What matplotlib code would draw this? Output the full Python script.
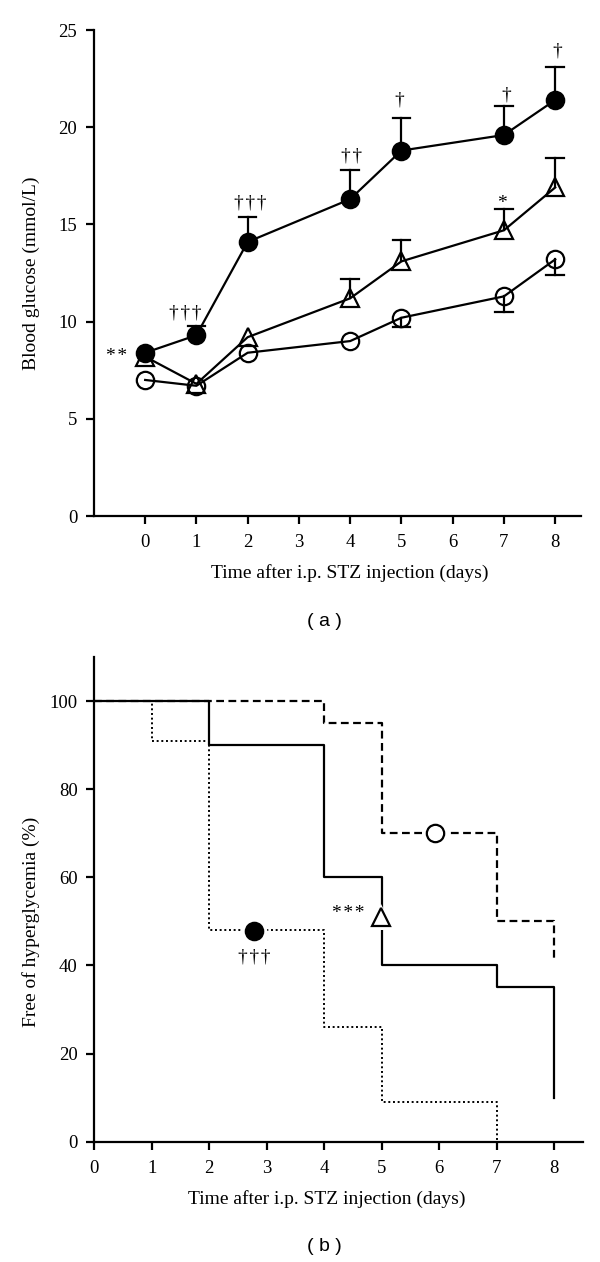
import matplotlib
matplotlib.use("Agg")
import numpy as np
import matplotlib.pyplot as plt

# ================== DATA ==================
days = [0, 1, 2, 4, 5, 7, 8]

# blood glucose (mmol/L), mean and SEM
stz_mean = [8.4, 9.3, 14.1, 16.3, 18.8, 19.6, 21.4]
stz_sem = [0, 0.45, 1.3, 1.5, 1.7, 1.5, 1.7]
tri_mean = [8.2, 6.8, 9.2, 11.2, 13.1, 14.7, 16.9]
tri_sem = [0, 0, 0, 1.0, 1.1, 1.1, 1.5]
open_mean = [7.0, 6.7, 8.4, 9.0, 10.2, 11.3, 13.2]
open_sem = [0, 0, 0, 0, 0.5, 0.8, 0.8]

# significance marks (panel a)
D3 = "\u2020\u200a\u2020\u200a\u2020"
D2 = "\u2020\u200a\u2020"
marks_a = [("*\u200a*", -0.55, 8.2), (D3, 0.79, 10.45), (D3, 2.05, 16.1),
           (D2, 4.02, 18.5), ("\u2020", 4.95, 21.4), ("\u2020", 7.04, 21.65),
           ("\u2020", 8.04, 23.9), ("*", 6.96, 16.1)]

# free of hyperglycemia (%), Kaplan-Meier steps
km_open_t = [0, 4, 5, 7, 8]
km_open_v = [100, 95, 70, 50, 41]
km_tri_t = [0, 2, 4, 5, 7, 8]
km_tri_v = [100, 90, 60, 40, 35, 10]
km_stz_t = [0, 1, 2, 4, 5, 7]
km_stz_v = [100, 91, 48, 26, 9, 0]

# curve symbols (panel b)
sym_open = (5.93, 70)
sym_tri = (4.99, 51)
sym_stz = (2.78, 47.8)
marks_b = [("*\u200a*\u200a*", 4.42, 51.8), (D3, 2.78, 42)]

x_ticks = list(range(0, 9))
ya_ticks = [0, 5, 10, 15, 20, 25]
yb_ticks = [0, 20, 40, 60, 80, 100]

# ================== STYLE ==================
SERIF = ["Liberation Serif", "DejaVu Serif"]
plt.rcParams["font.family"] = SERIF
plt.rcParams["font.size"] = 13
LW = 1.6
MS = 12.5
TICK_FS = 13.5
LABEL_FS = 14


def style_axes(ax):
    for s in ["top", "right"]:
        ax.spines[s].set_visible(False)
    for s in ["left", "bottom"]:
        ax.spines[s].set_linewidth(LW)
    ax.tick_params(axis="both", width=LW, length=6, labelsize=TICK_FS)
    ax.tick_params(axis="y", pad=6)
    ax.tick_params(axis="x", pad=7)


fig = plt.figure(figsize=(6.0, 12.62), dpi=100)

# ================== PANEL A ==================
ax = fig.add_axes([0.1565, 0.5911, 0.8115, 0.3851])

def draw_series(mean, sem, marker, face, down=False, z=3):
    ax.plot(days, mean, color="black", lw=LW, marker=marker, ms=MS,
            mfc=face, mec="black", mew=LW, zorder=z)
    for x, m, e in zip(days, mean, sem):
        if e <= 0:
            continue
        end = m - e if down else m + e
        ax.plot([x, x], [m, end], color="black", lw=LW, zorder=z - 0.5)
        ax.plot([x - 0.17, x + 0.17], [end, end], color="black", lw=LW,
                zorder=z - 0.5)

draw_series(open_mean, open_sem, "o", "none", down=True, z=3)
draw_series(tri_mean, tri_sem, "^", "none", z=4)
draw_series(stz_mean, stz_sem, "o", "black", z=5)

for txt, x, y in marks_a:
    ax.text(x, y, txt, ha="center", va="center", fontsize=LABEL_FS,
            family=SERIF)

ax.set_xlim(-1, 8.5)
ax.set_ylim(0, 25)
ax.set_xticks(x_ticks)
ax.set_yticks(ya_ticks)
style_axes(ax)
ax.set_xlabel("Time after i.p. STZ injection (days)", fontsize=LABEL_FS)
ax.xaxis.set_label_coords(5 / 9.5, -0.117)
ax.xaxis.label.set_va("center")
ax.set_ylabel("Blood glucose (mmol/L)", fontsize=LABEL_FS)
ax.yaxis.set_label_coords(-0.129, 0.5)
ax.yaxis.label.set_va("center")

fig.text(0.54, 1 - 622 / 1262, "( a )", ha="center", va="center",
         fontsize=14, family=["Liberation Sans", "DejaVu Sans"])

# ================== PANEL B ==================
bx = fig.add_axes([0.157, 0.0953, 0.8147, 0.3841])

bx.step(km_open_t, km_open_v, where="post", color="black", lw=LW,
        ls=(0, (3.5, 2)), zorder=2)
bx.step(km_tri_t, km_tri_v, where="post", color="black", lw=LW, zorder=2)
bx.step(km_stz_t, km_stz_v, where="post", color="black", lw=1.4,
        ls=(0, (1, 1.4)), zorder=2)

for (x, y), mk, face in [(sym_open, "o", "white"), (sym_tri, "^", "white"),
                         (sym_stz, "o", "black")]:
    bx.plot([x], [y], marker=mk, ms=MS + 6, mfc="white", mec="white",
            mew=0, ls="none", zorder=3)
    bx.plot([x], [y], marker=mk, ms=MS, mfc=face, mec="black", mew=LW,
            ls="none", zorder=4)

for txt, x, y in marks_b:
    bx.text(x, y, txt, ha="center", va="center", fontsize=LABEL_FS,
            family=SERIF)

bx.set_xlim(0, 8.5)
bx.set_ylim(0, 110)
bx.set_xticks(x_ticks)
bx.set_yticks(yb_ticks)
style_axes(bx)
bx.set_xlabel("Time after i.p. STZ injection (days)", fontsize=LABEL_FS)
bx.xaxis.set_label_coords(4.05 / 8.5, -0.118)
bx.xaxis.label.set_va("center")
bx.set_ylabel("Free of hyperglycemia (%)", fontsize=LABEL_FS)
bx.yaxis.set_label_coords(-0.129, 50 / 110)
bx.yaxis.label.set_va("center")

fig.text(0.54, 1 - 1246.7 / 1262, "( b )", ha="center", va="center",
         fontsize=14, family=["Liberation Sans", "DejaVu Sans"])

fig.savefig("out.png", dpi=100)
